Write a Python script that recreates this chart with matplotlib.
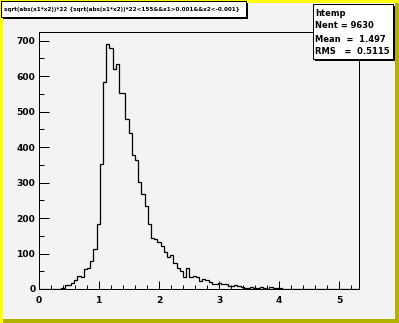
import numpy as np
import matplotlib
matplotlib.use("Agg")
import matplotlib.pyplot as plt
from matplotlib.patches import Rectangle

# histogram contents (100 bins on 0 .. 5.33)
counts = [0, 0, 0, 0, 0, 1, 1, 3, 12, 10,
          18, 24, 37, 34, 56, 60, 78, 114, 184, 351,
          582, 690, 678, 619, 633, 551, 551, 478, 439, 377,
          363, 302, 269, 233, 183, 145, 142, 131, 120, 103,
          89, 97, 72, 60, 51, 35, 58, 35, 37, 34,
          22, 29, 25, 19, 13, 13, 18, 13, 15, 8,
          8, 10, 8, 6, 2, 4, 5, 2, 2, 5,
          2, 1, 5, 3, 2, 2, 1, 1, 0, 1,
          1, 0, 0, 0, 0, 1, 0, 0, 0, 0,
          1, 0, 0, 0, 0, 0, 0, 0, 0, 0]
x_min, x_max = 0.0, 5.33
y_max = 724
x_ticks = [0, 1, 2, 3, 4, 5]
y_ticks = [0, 100, 200, 300, 400, 500, 600, 700]

title = "sqrt(abs(x1*x2))*22 {sqrt(abs(x1*x2))*22<155&&x1>0.001&&x2<-0.001}"
stats_name = "htemp"
stats_lines = ["Nent = 9630", "Mean  =  1.497", "RMS   =  0.5115"]

edges = np.linspace(x_min, x_max, len(counts) + 1)

W, H = 399, 323
bg = "#f3f3f3"


def fx(px):
    return px / W


def fy(py):
    return 1 - py / H


def box(x0, y0, x1, y1, **kw):
    # rectangle given in pixel coords (origin top-left)
    fig.patches.append(Rectangle((fx(x0), fy(y1)), fx(x1 - x0), fy(y0) - fy(y1),
                                 transform=fig.transFigure, **kw))


fig = plt.figure(figsize=(W / 100, H / 100), dpi=100, facecolor=bg)

# canvas bevel border
box(0, 0, W, H, facecolor="#ffff00", edgecolor="none", zorder=-3)
box(3, H - 4, W, H, facecolor="#b2b200", edgecolor="none", zorder=-2)
box(W - 4, 3, W, H, facecolor="#b2b200", edgecolor="none", zorder=-2)
box(3, 3, W - 4, H - 4, facecolor=bg, edgecolor="none", zorder=-1)

ax = fig.add_axes([fx(39), fy(289), fx(359) - fx(39), fy(32) - fy(289)], zorder=1)
ax.set_facecolor(bg)
ax.stairs(counts, edges, color="black", lw=0.9, baseline=None)
ax.set_xlim(x_min, x_max)
ax.set_ylim(0, y_max)

ax.set_xticks(x_ticks)
ax.set_xticks(np.arange(0, 5.3, 0.2), minor=True)
ax.set_yticks(y_ticks)
ax.set_yticks(np.arange(0, 720, 50), minor=True)
ax.set_xticklabels([str(t) for t in x_ticks])
ax.set_yticklabels([str(t) for t in y_ticks])
ax.tick_params(axis="x", which="major", direction="in", length=5.5, width=0.72,
               pad=5, labelsize=6.6)
ax.tick_params(axis="x", which="minor", direction="in", length=2.8, width=0.72)
ax.tick_params(axis="y", which="major", direction="in", length=6.9, width=0.72,
               pad=2.5, labelsize=6.6)
ax.tick_params(axis="y", which="minor", direction="in", length=3.5, width=0.72)
for lab in ax.get_xticklabels() + ax.get_yticklabels():
    lab.set_fontweight("bold")
for sp in ax.spines.values():
    sp.set_linewidth(0.72)

# title box with shadow
box(3, 3, 248, 19, facecolor="black", edgecolor="none", zorder=5)
box(1, 1, 246, 17, facecolor="white", edgecolor="black", lw=0.72, zorder=6)
t = fig.text(fx(4), fy(9), title, fontsize=5, fontweight="bold",
             va="center", ha="left", zorder=7)
r = fig.canvas.get_renderer()
w = t.get_window_extent(r).width
t.set_fontsize(5 * 236 / w)

# stats box with shadow
box(315, 6, 395, 61, facecolor="black", edgecolor="none", zorder=5)
box(313, 4, 393, 59, facecolor="white", edgecolor="black", lw=0.72, zorder=6)
fig.text(fx(315), fy(13), stats_name, fontsize=6, fontweight="bold",
         va="center", ha="left", zorder=7)
for i, line in enumerate(stats_lines):
    fig.text(fx(315), fy(26 + 13 * i), line, fontsize=6, fontweight="bold",
             va="center", ha="left", zorder=7)

fig.savefig("out.png", dpi=100, facecolor=fig.get_facecolor())
